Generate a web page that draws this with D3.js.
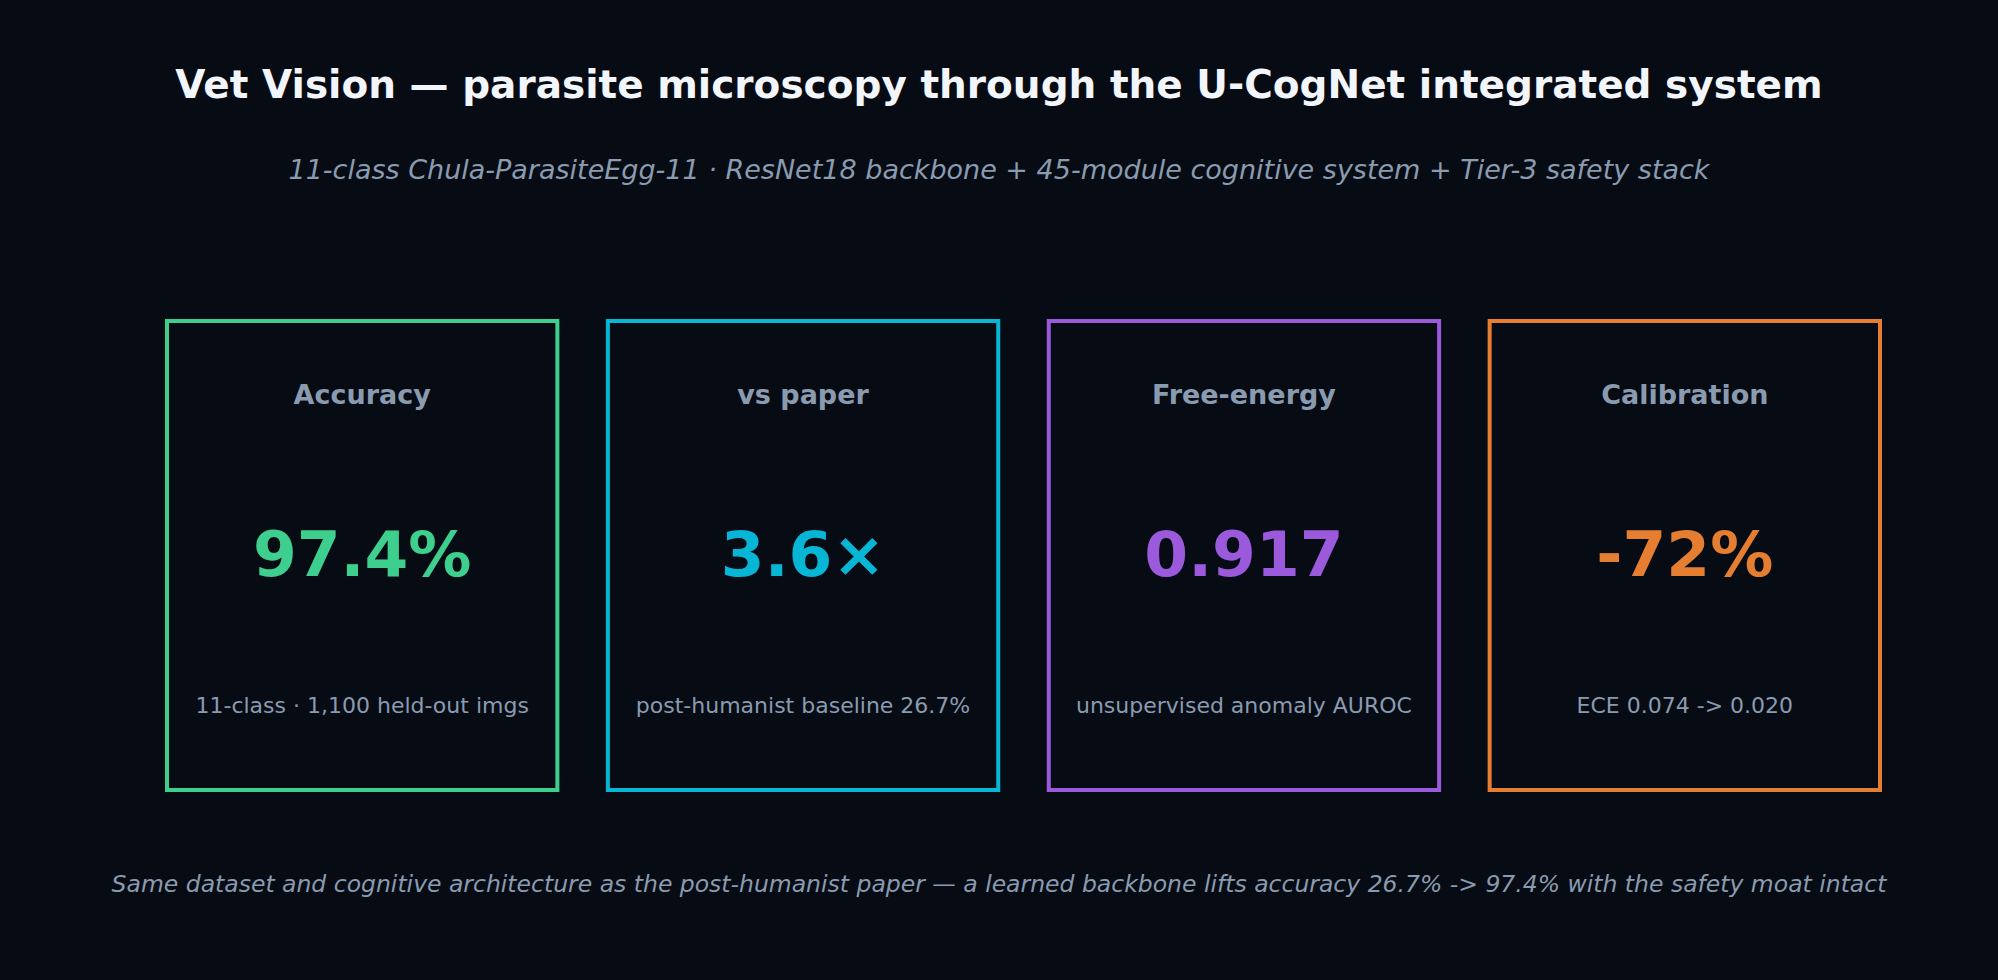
<!DOCTYPE html>
<html><head><meta charset="utf-8">
<script src="https://cdn.jsdelivr.net/npm/d3@7"></script>
<style>html,body{margin:0;padding:0;background:#070b14;}</style>
</head><body>
<svg id="c" width="1998" height="980"></svg>
<script>
const titles = ["Accuracy", "vs paper", "Free-energy", "Calibration"];
const values = ["97.4%", "3.6×", "0.917", "-72%"];
const notes = ["11-class · 1,100 held-out imgs", "post-humanist baseline 26.7%", "unsupervised anomaly AUROC", "ECE 0.074 -> 0.020"];
const colors = ["#3ecf8e", "#06b6d4", "#9b59dc", "#e67e32"];

const svg = d3.select("#c");
const font = "DejaVu Sans, sans-serif";
svg.append("rect").attr("width",1998).attr("height",980).attr("fill","#070b14");
svg.append("text").attr("x",999).attr("y",98).attr("text-anchor","middle")
  .attr("font-family",font).attr("font-weight","bold").attr("font-size",39).attr("fill","#f2f5fa")
  .text("Vet Vision — parasite microscopy through the U-CogNet integrated system");
svg.append("text").attr("x",999).attr("y",179).attr("text-anchor","middle")
  .attr("font-family",font).attr("font-style","italic").attr("font-size",27).attr("fill","#8a9bb0")
  .text("11-class Chula-ParasiteEgg-11 · ResNet18 backbone + 45-module cognitive system + Tier-3 safety stack");
svg.append("text").attr("x",999).attr("y",892).attr("text-anchor","middle")
  .attr("font-family",font).attr("font-style","italic").attr("font-size",23.5).attr("fill","#8a9bb0")
  .text("Same dataset and cognitive architecture as the post-humanist paper — a learned backbone lifts accuracy 26.7% -> 97.4% with the safety moat intact");

const x = d3.scaleBand().domain(d3.range(titles.length)).range([167,1880]).paddingInner(0.1146);
const g = svg.selectAll("g.card").data(titles).join("g").attr("transform",(d,i)=>`translate(${x(i)},0)`);
g.append("rect").attr("x",0).attr("y",321).attr("width",x.bandwidth()).attr("height",469)
  .attr("fill","#070b14").attr("stroke",(d,i)=>colors[i]).attr("stroke-width",4);
g.append("text").attr("x",x.bandwidth()/2).attr("y",404).attr("text-anchor","middle")
  .attr("font-family",font).attr("font-weight","bold").attr("font-size",27).attr("fill","#8a9bb0").text(d=>d);
g.append("text").attr("x",x.bandwidth()/2).attr("y",576).attr("text-anchor","middle")
  .attr("font-family",font).attr("font-weight","bold").attr("font-size",63).attr("fill",(d,i)=>colors[i]).text((d,i)=>values[i]);
g.append("text").attr("x",x.bandwidth()/2).attr("y",713).attr("text-anchor","middle")
  .attr("font-family",font).attr("font-size",22).attr("fill","#8a9bb0").text((d,i)=>notes[i]);
</script>
</body></html>
